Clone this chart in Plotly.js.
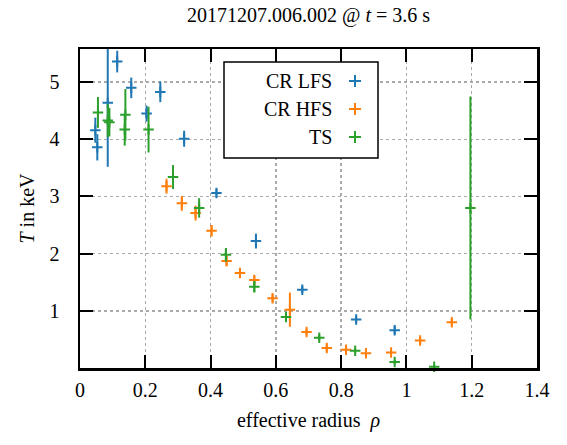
<!DOCTYPE html>
<html>
<head>
<meta charset="utf-8">
<script src="https://cdn.plot.ly/plotly-3.0.1.min.js"></script>
<style>html,body{margin:0;padding:0;background:#fff;}#chart{width:567px;height:445px;}</style>
</head>
<body>
<div id="chart"></div>
<script>
// CR LFS
const lfsRho = [0.047, 0.053, 0.085, 0.114, 0.157, 0.204, 0.246, 0.319, 0.418, 0.539, 0.681, 0.846, 0.964];
const lfsT   = [4.16, 3.86, 4.64, 5.36, 4.90, 4.45, 4.83, 4.01, 3.06, 2.22, 1.37, 0.85, 0.66];
const lfsErr = [0.22, 0.23, 1.12, 0.19, 0.18, 0.14, 0.18, 0.14, 0.07, 0.13, 0.06, 0.06, 0.07];
// CR HFS
const hfsRho = [0.265, 0.312, 0.354, 0.403, 0.449, 0.490, 0.534, 0.590, 0.643, 0.694, 0.756, 0.815, 0.876, 0.953, 1.042, 1.139];
const hfsT   = [3.18, 2.88, 2.71, 2.40, 1.87, 1.66, 1.54, 1.22, 1.02, 0.63, 0.35, 0.32, 0.26, 0.27, 0.48, 0.80];
const hfsErr = [0.13, 0.13, 0.13, 0.10, 0.09, 0.08, 0.08, 0.07, 0.30, 0.06, 0.06, 0.05, 0.05, 0.05, 0.06, 0.06];
// TS
const tsRho = [0.055, 0.085, 0.090, 0.139, 0.137, 0.210, 0.285, 0.365, 0.447, 0.534, 0.631, 0.733, 0.843, 0.964, 1.085, 1.196];
const tsT   = [4.47, 4.33, 4.30, 4.43, 4.17, 4.17, 3.34, 2.80, 1.98, 1.42, 0.89, 0.53, 0.30, 0.105, 0.02, 2.80];
const tsErr = [0.27, 0.29, 0.25, 0.45, 0.28, 0.40, 0.21, 0.17, 0.12, 0.10, 0.05, 0.05, 0.04, 0.04, 0.03, 1.95];

const seriesNames = ['CR LFS', 'CR HFS', 'TS'];
const colors = ['#1f77b4', '#ff7f0e', '#2ca02c'];
const xTicks = [0, 0.2, 0.4, 0.6, 0.8, 1, 1.2, 1.4];
const yTicks = [1, 2, 3, 4, 5];

const FONT = '"Liberation Serif", "DejaVu Serif", serif';

function mk(x, y, e, name, color, clip) {
  return {
    type: 'scatter', mode: 'markers', name: name, x: x, y: y,
    cliponaxis: clip,
    marker: {symbol: 'cross-thin', size: 7.5, color: color, line: {color: color, width: 2}},
    error_y: {type: 'data', array: e, visible: true, color: color, thickness: 2, width: 0},
    showlegend: false, hoverinfo: 'x+y'
  };
}

const data = [
  mk(lfsRho, lfsT, lfsErr, seriesNames[0], colors[0], true),
  mk(hfsRho, hfsT, hfsErr, seriesNames[1], colors[1], false),
  mk(tsRho, tsT, tsErr, seriesNames[2], colors[2], false)
];

// legend drawn as shapes + annotations (text right-aligned, sample on the right)
const W = 457, H = 319, L = 80, T = 49;
function px(x) { return (x - L) / W; }
function py(y) { return (T + H - y) / H; }
const shapes = [];
const annotations = [];
shapes.push({type: 'rect', xref: 'paper', yref: 'paper', x0: px(224), x1: px(378), y0: py(62), y1: py(158),
  line: {color: '#000', width: 1.5}, fillcolor: '#fff', layer: 'above'});
const rowsY = [81, 109, 137];
for (let i = 0; i < 3; i++) {
  const cy = rowsY[i];
  annotations.push({xref: 'paper', yref: 'paper', x: px(334), y: py(cy), xanchor: 'right', yanchor: 'middle',
    text: seriesNames[i], showarrow: false, font: {family: FONT, size: 20, color: '#000'}});
  shapes.push({type: 'line', xref: 'paper', yref: 'paper', x0: px(349), x1: px(361), y0: py(cy), y1: py(cy),
    line: {color: colors[i], width: 2}, layer: 'above'});
  shapes.push({type: 'line', xref: 'paper', yref: 'paper', x0: px(355), x1: px(355), y0: py(cy - 6), y1: py(cy + 6),
    line: {color: colors[i], width: 2}, layer: 'above'});
}

const axisCommon = {
  showline: true, linecolor: '#000', linewidth: 2.5, mirror: 'ticks',
  ticks: 'inside', ticklen: 13, tickwidth: 2, tickcolor: '#000',
  showgrid: true, gridcolor: '#aaaaaa', gridwidth: 1.5, griddash: '3px,3px',
  zeroline: false, tickfont: {family: FONT, size: 20, color: '#000'}
};

const layout = {
  width: 567, height: 445,
  margin: {l: L, r: 567 - L - W, t: T, b: 445 - T - H},
  paper_bgcolor: '#fff', plot_bgcolor: '#fff',
  title: {text: '20171207.006.002 @ <i>t</i> = 3.6 s', x: (L + W / 2) / 567, xanchor: 'center', y: 1 - 15 / 445, yanchor: 'middle',
    font: {family: FONT, size: 20, color: '#000'}},
  xaxis: Object.assign({}, axisCommon, {range: [0, 1.4], tickvals: xTicks, ticktext: xTicks.map(String), ticklabelstandoff: 2,
    title: {text: 'effective radius  <i>ρ</i>', font: {family: FONT, size: 20, color: '#000'}, standoff: 14}}),
  yaxis: Object.assign({}, axisCommon, {range: [0, 5.58], tickvals: yTicks, ticklabelstandoff: 14,
    title: {text: '<i>T</i> in keV', font: {family: FONT, size: 20, color: '#000'}, standoff: 10}}),
  shapes: shapes, annotations: annotations, showlegend: false
};

Plotly.newPlot('chart', data, layout, {staticPlot: true});
</script>
</body>
</html>
